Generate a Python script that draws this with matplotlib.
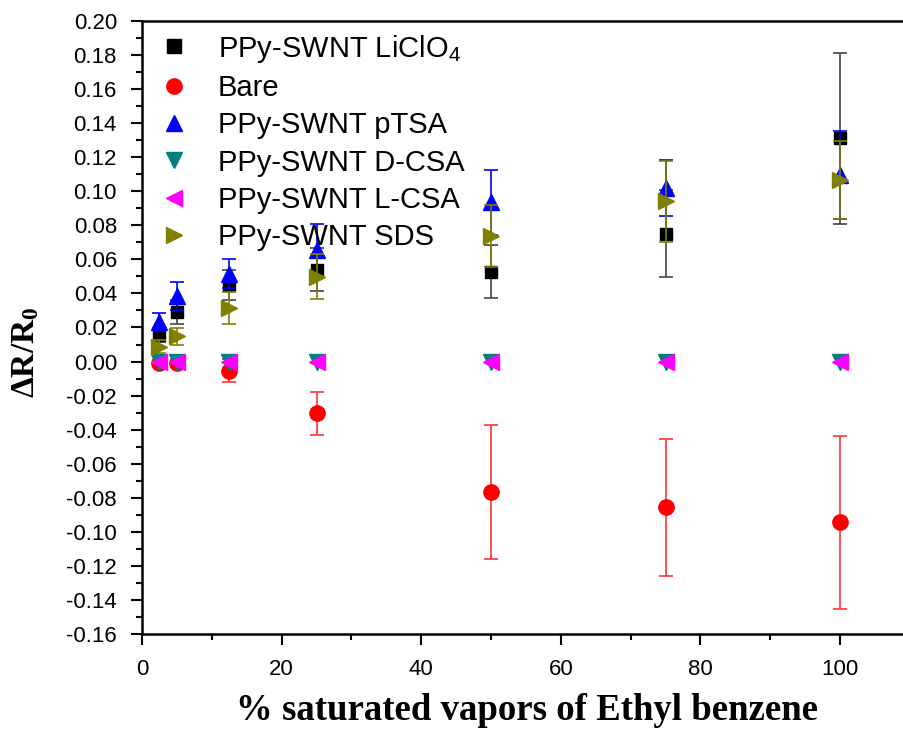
import numpy as np
import matplotlib.pyplot as plt
from matplotlib.ticker import MultipleLocator
from matplotlib.lines import Line2D

# Data
conc = [2.5, 5, 12.5, 25, 50, 75, 100]

liclo4 = [0.0156, 0.0293, 0.0450, 0.0540, 0.0528, 0.0750, 0.1310]
liclo4_err = [0.004, 0.007, 0.009, 0.0127, 0.0157, 0.0255, 0.0505]

bare = [-0.001, -0.001, -0.0055, -0.0305, -0.0765, -0.0857, -0.0945]
bare_err = [0.002, 0.002, 0.0068, 0.0127, 0.0392, 0.0403, 0.0508]

ptsa = [0.0235, 0.0385, 0.0515, 0.0655, 0.0935, 0.1020, 0.1095]
ptsa_err = [0.005, 0.008, 0.0085, 0.0153, 0.0190, 0.0165, 0.026]

dcsa = [-0.0005, -0.0005, -0.0005, -0.0005, -0.0005, -0.0005, -0.0005]
lcsa = [0.0, 0.0, 0.0, 0.0, 0.0, 0.0, 0.0]

sds = [0.0088, 0.0150, 0.0313, 0.0499, 0.0740, 0.0940, 0.1066]
sds_err = [0.004, 0.005, 0.0094, 0.0130, 0.0182, 0.0236, 0.0228]

labels = [r'PPy-SWNT LiClO$_4$', 'Bare', 'PPy-SWNT pTSA', 'PPy-SWNT D-CSA',
          'PPy-SWNT L-CSA', 'PPy-SWNT SDS']
markers = ['s', 'o', '^', 'v', '<', '>']
colors = ['black', 'red', 'blue', '#008080', 'magenta', '#808000']
sizes = [10, 11, 12, 12, 12, 12]

plt.rcParams['font.family'] = ['Liberation Sans', 'DejaVu Sans']
plt.rcParams['mathtext.fontset'] = 'custom'
plt.rcParams['mathtext.rm'] = 'Liberation Sans'
plt.rcParams['mathtext.bf'] = 'Liberation Serif:bold'

fig = plt.figure(figsize=(9.04, 7.34), dpi=100)
ax = fig.add_axes([142 / 904, 100 / 734, 770 / 904, 613 / 734])

ekw = dict(capsize=5, elinewidth=1.2, capthick=1.2, linestyle='none')
ax.errorbar(conc, liclo4, yerr=liclo4_err, fmt='s', color='black', ecolor='#444444',
            markersize=9, zorder=3, **ekw)
ax.errorbar(conc, bare, yerr=bare_err, fmt='o', color='red', ecolor='#ff3333',
            markersize=11, zorder=4, **ekw)
ax.errorbar(conc, ptsa, yerr=ptsa_err, fmt='^', color='blue', ecolor='blue',
            markersize=12, zorder=5, **ekw)
ax.plot(conc, dcsa, 'v', color='#008080', markersize=12, linestyle='none', zorder=6)
ax.plot(conc, lcsa, '<', color='magenta', markersize=12, linestyle='none', zorder=7)
ax.errorbar(conc, sds, yerr=sds_err, fmt='>', color='#808000', ecolor='#808000',
            markersize=12, zorder=8, **ekw)

ax.set_xlim(0, 110.3)
ax.set_ylim(-0.16, 0.20)
ax.xaxis.set_major_locator(MultipleLocator(20))
ax.xaxis.set_minor_locator(MultipleLocator(10))
ax.yaxis.set_major_locator(MultipleLocator(0.02))
ax.yaxis.set_minor_locator(MultipleLocator(0.01))
ax.yaxis.set_major_formatter(plt.FuncFormatter(lambda v, p: f'{v:.2f}'))

ax.tick_params(which='major', direction='out', length=8, width=1.5, labelsize=16,
               top=False, right=False)
ax.tick_params(axis='y', which='major', pad=10)
ax.tick_params(axis='x', which='major', pad=10)
ax.tick_params(which='minor', direction='out', length=4, width=1.5,
               top=False, right=False)
for s in ax.spines.values():
    s.set_linewidth(1.8)

ax.set_xlabel('% saturated vapors of Ethyl benzene', family='Liberation Serif',
              fontweight='bold', fontsize=26.5, labelpad=9)
ax.set_ylabel(r'$\mathbf{\Delta R/R_0}$', fontsize=24)
ax.yaxis.set_label_coords(-0.131, 0.46)

handles = [Line2D([], [], marker=m, color=c, markersize=s, linestyle='none')
           for m, c, s in zip(markers, colors, sizes)]
ax.legend(handles, labels, loc='upper left', frameon=False, fontsize=21,
          handletextpad=0.8, labelspacing=0.32, borderaxespad=0.25,
          handlelength=1.4, borderpad=0.15)

fig.savefig('out.png', dpi=100)
